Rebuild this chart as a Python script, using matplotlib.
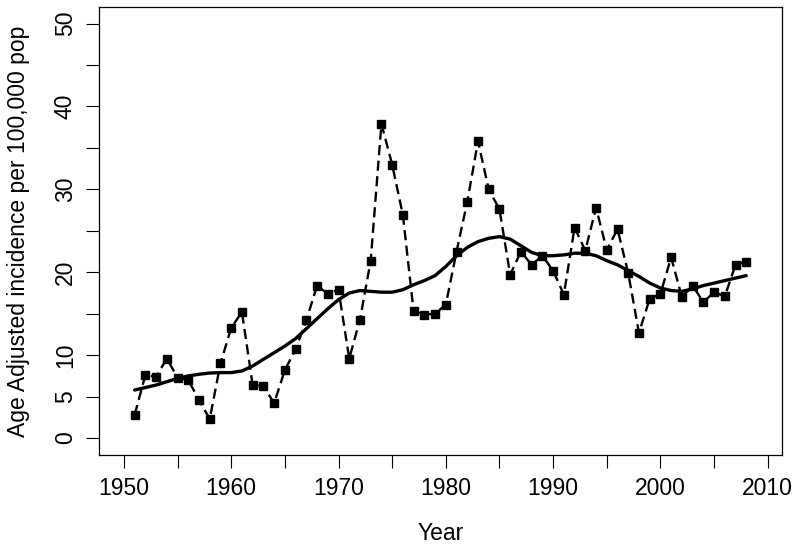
import numpy as np
import matplotlib.pyplot as plt

plt.rcParams['font.family'] = ['Liberation Sans', 'DejaVu Sans']

years = np.arange(1951, 2009)
incidence = [2.8, 7.6, 7.4, 9.6, 7.3, 7.0, 4.6, 2.3, 9.0, 13.3,
             15.2, 6.4, 6.3, 4.2, 8.2, 10.7, 14.2, 18.4, 17.4, 17.9,
             9.6, 14.3, 21.4, 37.9, 33.0, 26.9, 15.3, 14.9, 15.0, 16.1,
             22.5, 28.5, 35.8, 30.0, 27.6, 19.7, 22.5, 20.9, 22.0, 20.2,
             17.3, 25.4, 22.6, 27.8, 22.7, 25.2, 19.9, 12.7, 16.8, 17.4,
             21.8, 17.0, 18.4, 16.4, 17.6, 17.1, 20.9, 21.3]
smooth = [5.8, 6.1, 6.4, 6.8, 7.2, 7.5, 7.7, 7.85, 7.9, 7.9,
          8.1, 8.7, 9.5, 10.3, 11.1, 12.0, 13.2, 14.4, 15.6, 16.7,
          17.5, 17.8, 17.7, 17.6, 17.6, 17.9, 18.5, 19.0, 19.6, 20.7,
          22.0, 23.0, 23.7, 24.1, 24.3, 24.0, 23.2, 22.4, 22.0, 22.0,
          22.1, 22.3, 22.3, 22.0, 21.4, 20.9, 20.2, 19.5, 18.7, 18.1,
          17.8, 17.7, 18.0, 18.4, 18.7, 19.0, 19.3, 19.6]

x_ticks = np.arange(1950, 2011, 5)
x_labels = [str(t) if t % 10 == 0 else '' for t in x_ticks]
y_ticks = np.arange(0, 51, 5)
y_labels = ['0', '5', '10', '', '20', '', '30', '', '40', '', '50']

fig = plt.figure(figsize=(8, 5.52), dpi=100)
ax = fig.add_axes([0.12375, 0.1763, 0.85375, 0.811])

# observed rates, dashed with square markers
ax.plot(years, incidence, color='black', lw=1.7, dashes=(4.3, 2.3),
        marker='s', markersize=6.3)
# smoothed trend
ax.plot(years, smooth, color='black', lw=2.4, solid_capstyle='round')

ax.set_xlim(1947.68, 2011.33)
ax.set_ylim(-2, 52)
ax.set_xticks(x_ticks)
ax.set_xticklabels(x_labels)
ax.set_yticks(y_ticks)
ax.set_yticklabels(y_labels, rotation=90, va='center')
ax.tick_params(labelsize=16.5, length=9.4, width=0.8, pad=6.5)
for s in ax.spines.values():
    s.set_linewidth(0.9)

ax.set_xlabel('Year', fontsize=16.5)
ax.set_ylabel('Age Adjusted incidence per 100,000 pop', fontsize=16.5)
ax.xaxis.set_label_coords(0.5, -0.150)
ax.yaxis.set_label_coords(-0.101, 0.5)

fig.savefig('out.png', dpi=100)
